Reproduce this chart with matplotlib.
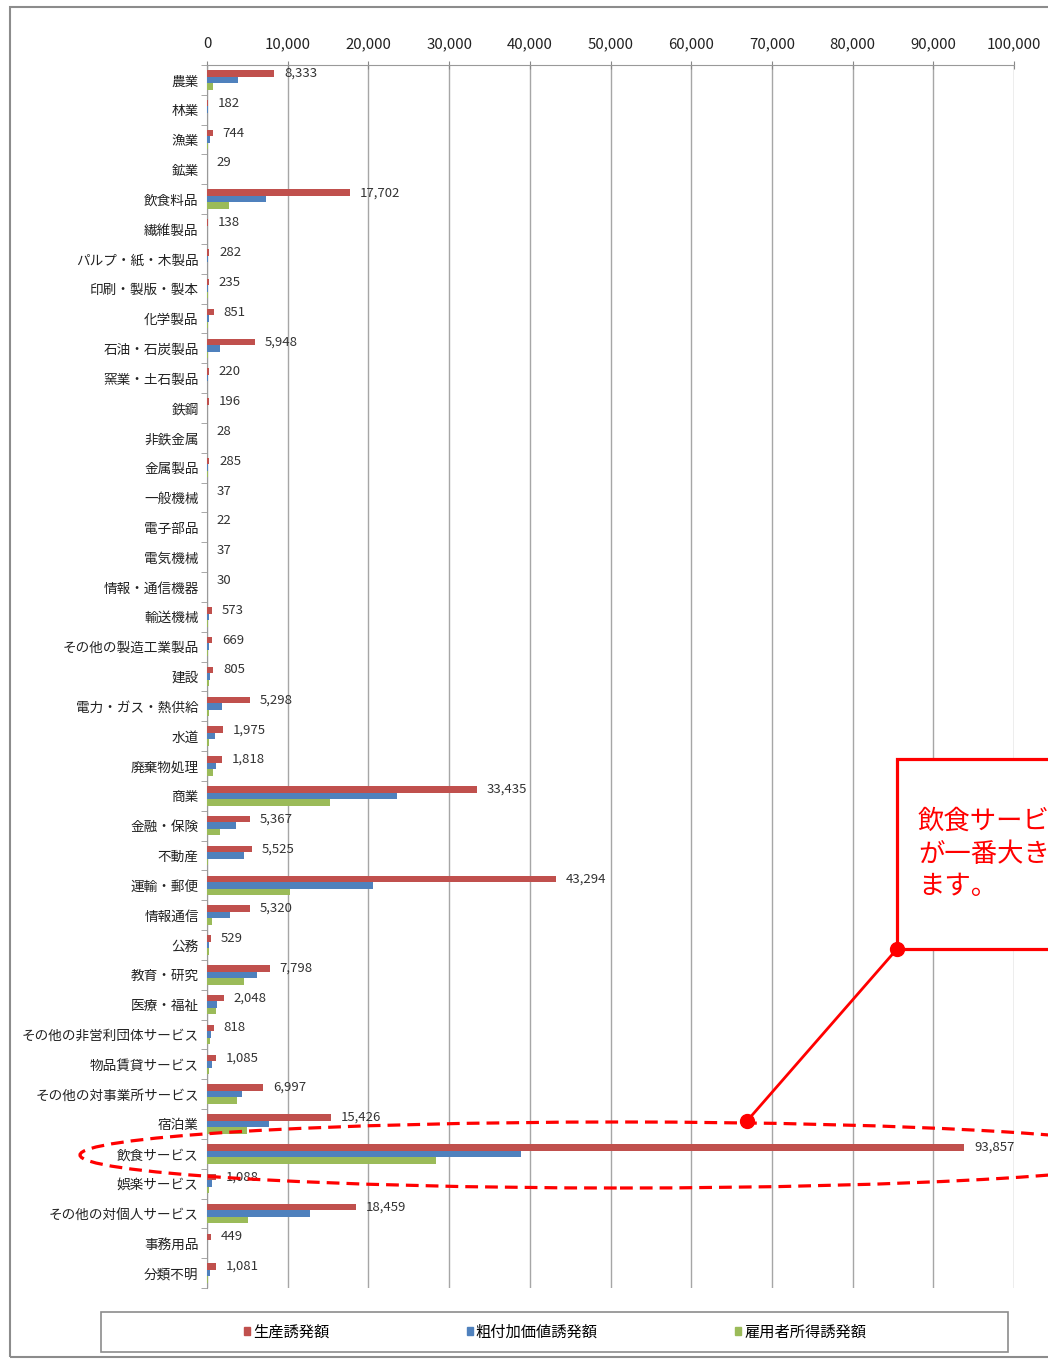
import matplotlib
matplotlib.use("Agg")
import matplotlib.pyplot as plt
import numpy as np
from matplotlib.patches import Rectangle, Ellipse
from matplotlib.lines import Line2D

plt.rcParams['font.family'] = ['Noto Sans CJK JP', 'DejaVu Sans']

categories = ["農業", "林業", "漁業", "鉱業", "飲食料品", "繊維製品", "パルプ・紙・木製品",
              "印刷・製版・製本", "化学製品", "石油・石炭製品", "窯業・土石製品", "鉄鋼",
              "非鉄金属", "金属製品", "一般機械", "電子部品", "電気機械", "情報・通信機器",
              "輸送機械", "その他の製造工業製品", "建設", "電力・ガス・熱供給", "水道",
              "廃棄物処理", "商業", "金融・保険", "不動産", "運輸・郵便", "情報通信", "公務",
              "教育・研究", "医療・福祉", "その他の非営利団体サービス", "物品賃貸サービス",
              "その他の対事業所サービス", "宿泊業", "飲食サービス", "娯楽サービス",
              "その他の対個人サービス", "事務用品", "分類不明"]

production = [8333, 182, 744, 29, 17702, 138, 282, 235, 851, 5948, 220, 196, 28, 285, 37,
              22, 37, 30, 573, 669, 805, 5298, 1975, 1818, 33435, 5367, 5525, 43294, 5320,
              529, 7798, 2048, 818, 1085, 6997, 15426, 93857, 1088, 18459, 449, 1081]
value_added = [3800, 100, 400, 15, 7300, 50, 110, 110, 300, 1600, 90, 60, 10, 130, 17,
               10, 15, 12, 200, 300, 400, 1850, 1000, 1100, 23500, 3600, 4600, 20600, 2850,
               300, 6200, 1200, 500, 600, 4300, 7700, 38900, 600, 12800, 0, 400]
employee_income = [700, 50, 150, 5, 2700, 30, 60, 70, 100, 150, 50, 20, 4, 80, 10,
                   6, 9, 7, 100, 150, 250, 300, 300, 700, 15300, 1600, 150, 10300, 600,
                   200, 4600, 1100, 400, 250, 3700, 5000, 28400, 300, 5100, 0, 100]

series_names = ["生産誘発額", "粗付加価値誘発額", "雇用者所得誘発額"]
colors = ["#C0504D", "#4F81BD", "#9BBB59"]
xticks = list(range(0, 100001, 10000))
callout_text = "飲食サービス\nが一番大きくなってい\nます。"

W, H = 1048, 1359
fig = plt.figure(figsize=(W / 100, H / 100), dpi=100)

def fx(px):
    return px / W

def fy(py):
    return 1 - py / H

ax = fig.add_axes([fx(207), fy(1288), fx(1014) - fx(207), fy(65) - fy(1288)])

n = len(categories)
y = np.arange(n)
bh = 0.218
for i, (vals, c) in enumerate(zip([production, value_added, employee_income], colors)):
    ax.barh(y + (i - 1) * bh, vals, height=bh, color=c, zorder=3, label=series_names[i])

for yi, v in zip(y, production):
    ax.annotate(f"{v:,}", xy=(v, yi - bh), xytext=(7, 0), textcoords="offset points",
                va="center", ha="left", fontsize=9.5, color="#333333", zorder=4)

ax.set_xlim(0, 100000)
ax.set_ylim(n - 0.5, -0.5)
ax.set_xticks(xticks)
ax.set_xticklabels([f"{t:,}" for t in xticks], fontsize=10.8, color="#222222")
ax.xaxis.tick_top()
ax.tick_params(axis='x', which='major', direction='inout', length=6, color='#888888', pad=7)
ax.set_yticks(y)
ax.set_yticklabels(categories, fontsize=9.8, color="#222222")
ax.tick_params(axis='y', which='major', length=0, pad=6)
ax.set_yticks(np.arange(-0.5, n, 1), minor=True)
ax.tick_params(axis='y', which='minor', length=4, color='#999999', direction='out')
ax.grid(axis='x', color='#a6a6a6', linewidth=1.0, zorder=0)
for s in ['bottom', 'right']:
    ax.spines[s].set_visible(False)
ax.spines['top'].set_color('#999999')
ax.spines['left'].set_color('#999999')

# outer chart border
fig.patches.append(Rectangle((fx(10), fy(1357)), fx(1100) - fx(10), fy(7) - fy(1357),
                             transform=fig.transFigure, fill=False, edgecolor='#8c8c8c',
                             linewidth=1.5, zorder=0))

# legend box
fig.patches.append(Rectangle((fx(101), fy(1352)), fx(1008) - fx(101), fy(1312) - fy(1352),
                             transform=fig.transFigure, fill=False, edgecolor='#8c8c8c',
                             linewidth=1.2))
handles = [Rectangle((0, 0), 1, 1, color=c) for c in colors]
fig.legend(handles, series_names, loc='center', bbox_to_anchor=(fx(555), fy(1332)),
           ncol=3, frameon=False, fontsize=11, handlelength=0.4, handleheight=0.4,
           handletextpad=0.2, columnspacing=9.0)

# dashed ellipse highlight
fig.patches.append(Ellipse((fx(620), fy(1155)), width=fx(1080), height=66 / H,
                           transform=fig.transFigure, fill=False, edgecolor='#FF0000',
                           linewidth=2.3, linestyle=(0, (4, 2.2)), zorder=10))

# callout
fig.patches.append(Rectangle((fx(897), fy(949)), fx(1150) - fx(897), fy(759) - fy(949),
                             transform=fig.transFigure, facecolor='white', edgecolor='#FF0000',
                             linewidth=2.3, zorder=10))
fig.lines.append(Line2D([fx(897), fx(747)], [fy(949), fy(1121)], transform=fig.transFigure,
                        color='#FF0000', linewidth=2.0, zorder=11))
for cx, cy in [(897, 949), (747, 1121)]:
    fig.lines.append(Line2D([fx(cx)], [fy(cy)], transform=fig.transFigure, marker='o',
                            markersize=10, color='#FF0000', zorder=12))
fig.text(fx(918), fy(854), callout_text, color='#FF0000',
         fontsize=19, va='center', ha='left', linespacing=1.26, zorder=13,
         transform=fig.transFigure)

fig.savefig("out.png", dpi=100)
